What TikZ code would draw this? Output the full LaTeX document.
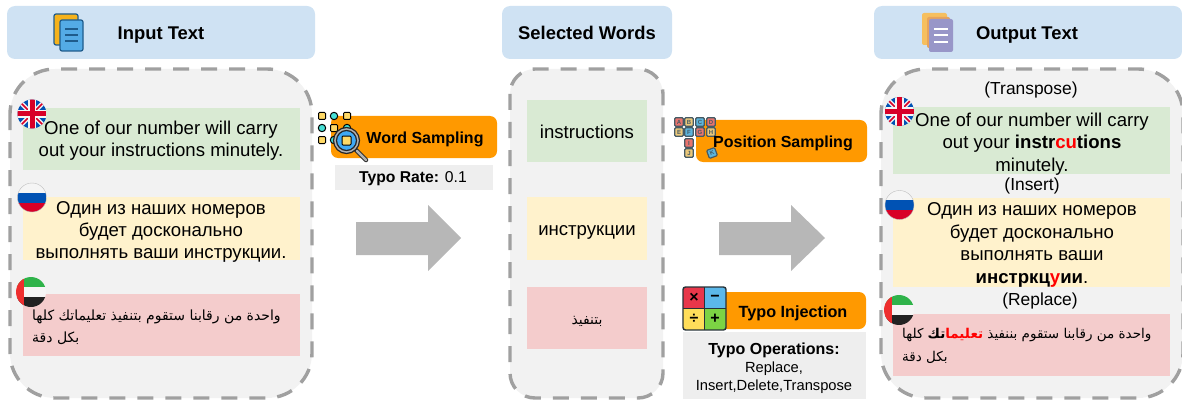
\documentclass[tikz,border=0pt]{standalone}
\usepackage{fontspec}
\setmainfont{Liberation Sans}
\newfontfamily\arabicfont[Script=Arabic]{DejaVu Sans}
\TeXXeTstate=1
\usetikzlibrary{calc}
\definecolor{headblue}{HTML}{CFE2F3}
\definecolor{panelgray}{HTML}{F2F2F2}
\definecolor{dashgray}{HTML}{A0A0A0}
\definecolor{boxgreen}{HTML}{D9EAD3}
\definecolor{boxyellow}{HTML}{FFF2CC}
\definecolor{boxred}{HTML}{F4CCCC}
\definecolor{stepor}{HTML}{FF9900}
\definecolor{notegray}{HTML}{EEEEEE}
\definecolor{arrowgray}{HTML}{B7B7B7}
\definecolor{inkdark}{HTML}{455A64}
\definecolor{iconyellow}{HTML}{FFD966}
\definecolor{iconteal}{HTML}{46DFD5}
\definecolor{iconblue}{HTML}{3FA9F5}
\definecolor{blkred}{HTML}{E8746E}
\definecolor{blkyel}{HTML}{EBC87A}
\definecolor{blkblue}{HTML}{5DB5DC}
\definecolor{opred}{HTML}{E8374A}
\definecolor{opblue}{HTML}{5BB8EA}
\definecolor{opyellow}{HTML}{FFDE5A}
\definecolor{opgreen}{HTML}{7CD344}
\definecolor{opline}{HTML}{263238}
\definecolor{flagblue}{HTML}{0052B4}
\definecolor{flagred}{HTML}{D80027}
\definecolor{flaggreen}{HTML}{2FB34A}
\definecolor{flagaered}{HTML}{EE2E2E}
\definecolor{flagblack}{HTML}{222222}
\definecolor{flagwhite}{HTML}{F5F5F5}
\definecolor{docline}{HTML}{1F5C8C}
\definecolor{docback}{HTML}{F5B21B}
\definecolor{docfront}{HTML}{54ABE6}
\definecolor{outback}{HTML}{F6BF5E}
\definecolor{outmid}{HTML}{E8A35A}
\definecolor{outfront}{HTML}{9896C8}
\newcommand\fsz[2]{\fontsize{#1}{#2}\selectfont}
\tikzset{
  x=1pt,y=-1pt,
  head/.style={fill=headblue,rounded corners=8pt,draw=none},
  panel/.style={fill=panelgray,draw=dashgray,line width=3.4pt,dash pattern=on 16pt off 12pt},
  orangebar/.style={fill=stepor,rounded corners=7pt,draw=none},
  notebox/.style={fill=notegray,draw=none},
  bigblack/.style={text=black,align=center,inner sep=0pt},
  bigarrow/.style={fill=arrowgray,draw=none},
  blk/.style={draw=inkdark,line width=1.2pt,rounded corners=1pt,minimum size=8.5pt,inner sep=0pt,font=\fsz{6}{6}\bfseries,text=inkdark},
  sqy/.style={draw=black,line width=1pt,fill=iconyellow,rounded corners=1pt},
  cic/.style={draw=black,line width=1pt,fill=iconteal}
}
\newcommand\FlagUK[2]{\begin{scope}[shift={(#1,#2)}]
 \begin{scope}
 \clip (0,0) circle (14.5);
 \fill[flagblue] (-15,-15) rectangle (15,15);
 \draw[flagwhite,line width=4.5pt] (-15,-15)--(15,15) (-15,15)--(15,-15);
 \draw[flagred,line width=1.5pt] (-15,-15)--(15,15) (-15,15)--(15,-15);
 \draw[flagwhite,line width=8.5pt] (-15,0)--(15,0) (0,-15)--(0,15);
 \draw[flagred,line width=5pt] (-15,0)--(15,0) (0,-15)--(0,15);
 \end{scope}
\end{scope}}
\newcommand\FlagRU[2]{\begin{scope}[shift={(#1,#2)}]
 \begin{scope}
 \clip (0,0) circle (14.5);
 \fill[flagwhite] (-15,-15) rectangle (15,-5);
 \fill[flagblue] (-15,-5) rectangle (15,5);
 \fill[flagred] (-15,5) rectangle (15,15);
 \end{scope}
 \draw[black!25,line width=.4pt] (0,0) circle (14.5);
\end{scope}}
\newcommand\FlagAE[2]{\begin{scope}[shift={(#1,#2)}]
 \begin{scope}
 \clip (0,0) circle (15);
 \fill[flaggreen] (-15,-15) rectangle (15,-5);
 \fill[flagwhite] (-15,-5) rectangle (15,5);
 \fill[flagblack] (-15,5) rectangle (15,15);
 \fill[flagaered] (-15,-15) rectangle (-7,15);
 \end{scope}
\end{scope}}
\begin{document}
\begin{tikzpicture}
\useasboundingbox (0,0) rectangle (1182,401);
% headers
\draw[head] (7,6) rectangle (315,59);
\draw[head] (502,6) rectangle (672,59);
\draw[head] (874,6) rectangle (1182,59);
\node[bigblack,font=\fsz{18.4}{22}\bfseries] (hin) at (161,35) {Input Text};
\node[bigblack,font=\fsz{18.4}{22}\bfseries] (hsel) at (587,33) {Selected Words};
\node[bigblack,font=\fsz{18.4}{22}\bfseries] (hout) at (1027,35) {Output Text};
% panels
\draw[panel,rounded corners=45pt] (10,69) rectangle (312,398);
\draw[panel,rounded corners=25pt] (510,69) rectangle (663,398);
\draw[panel,rounded corners=45pt] (881,69) rectangle (1183,398);
% coloured boxes
\fill[boxgreen] (23,108) rectangle (300,170);
\fill[boxyellow] (23,197) rectangle (300,260);
\fill[boxred] (23,294) rectangle (300,356);
\fill[boxgreen] (527,100) rectangle (647,162);
\fill[boxyellow] (527,197) rectangle (647,260);
\fill[boxred] (527,287) rectangle (647,349);
\fill[boxgreen] (893,107) rectangle (1170,174);
\fill[boxyellow] (893,198) rectangle (1170,287);
\fill[boxred] (893,314) rectangle (1170,376);
% input texts
\node[bigblack,font=\fsz{18.6}{22}] (t1) at (161,140.5) {One of our number will carry\\out your instructions minutely.};
\node[bigblack,font=\fsz{18.6}{22}] (t2) at (161,231.5) {Один из наших номеров\\будет досконально\\выполнять ваши инструкции.};
\node[bigblack,font=\arabicfont\fsz{14}{22},align=left,anchor=west] (t3) at (32,327) {\beginR واحدة من رقابنا ستقوم بتنفيذ تعليماتك كلها\endR\\\beginR بكل دقة\endR};
% selected words
\node[bigblack,font=\fsz{18.6}{22}] (w1) at (587,132) {instructions};
\node[bigblack,font=\fsz{18.6}{22}] (w2) at (587,232) {инструкции};
\node[bigblack,font=\arabicfont\fsz{14}{22}] (w3) at (587,321) {\beginR بتنفيذ\endR};
% output texts
\node[bigblack,font=\fsz{17.4}{20}] (l1) at (1031,90) {(Transpose)};
\node[bigblack,font=\fsz{17.4}{20}] (l2) at (1032,186) {(Insert)};
\node[bigblack,font=\fsz{17.4}{20}] (l3) at (1040,301) {(Replace)};
\node[bigblack,font=\fsz{18.6}{22.5}] (o1) at (1032,144) {One of our number will carry\\out your \textbf{instr\textcolor{red}{cu}tions}\\minutely.};
\node[bigblack,font=\fsz{18.6}{22.5}] (o2) at (1032,245) {Один из наших номеров\\будет досконально\\выполнять ваши\\\textbf{инстркц\textcolor{red}{у}ии}.};
\node[bigblack,font=\arabicfont\fsz{13.5}{23},align=left,anchor=west] (o3) at (902,346) {\beginR واحدة من رقابنا ستقوم بننفيذ \beginL\textbf{\textcolor{red}{\beginR تعليما\endR}}\endL\textbf{تك} كلها\endR\\\beginR بكل دقة\endR};
% arrows
\fill[bigarrow] (356,222)--(428,222)--(428,205)--(461,238)--(428,271)--(428,255)--(356,255)--cycle;
\fill[bigarrow] (719,222)--(791,222)--(791,205)--(825,238)--(791,271)--(791,255)--(719,255)--cycle;
% word sampling
\draw[orangebar] (331,116) rectangle (497,158);
\draw[notebox] (335,165) rectangle (493,190);
\node[bigblack,font=\fsz{16}{18}\bfseries] (ws) at (425,139) {Word Sampling};
\node[bigblack,font=\fsz{15.7}{18}] (tr) at (413,178.5) {\textbf{Typo Rate:} 0.1};
\foreach \px/\py in {322/116,347/116,334/128,322/140,347/140} {\draw[sqy] (\px-3.5,\py-3.5) rectangle (\px+3.5,\py+3.5);}
\foreach \px/\py in {334/116,322/128,347/128,334/140} {\draw[cic] (\px,\py) circle (3.7);}
\draw[line cap=round,line width=4.5pt,black!80] (356,150)--(366,160);
\draw[line cap=round,line width=2.2pt,black!30] (357,151)--(366,160);
\draw[fill=black!30,draw=black!85,line width=1.2pt] (346.5,140.5) circle (13);
\draw[fill=iconblue,draw=black!85,line width=1.2pt] (346.5,140.5) circle (10);
\draw[sqy] (342,136) rectangle (351,145);
% position sampling
\draw[orangebar] (696,120) rectangle (867,162);
\foreach \ltr/\px/\py/\col in {A/679/122/blkred,B/689/122/blkyel,C/700/122/blkblue,D/711/122/blkred,E/679/132/blkyel,F/689/132/blkblue,G/700/132/blkred,H/711/132/blkyel,I/689/143/blkred,J/689/153/blkyel}
 {\node[blk,fill=\col] (b\ltr) at (\px,\py) {\ltr};}
\node[blk,fill=blkblue,rotate=20] (bK) at (712,153) {K};
\node[bigblack,font=\fsz{16}{18}\bfseries] (ps) at (783,143.5) {Position Sampling};
% typo injection
\draw[orangebar] (700,292) rectangle (866,329);
\draw[notebox] (683,332) rectangle (866,399);
\begin{scope}
 \clip[rounded corners=2.5pt] (683,287) rectangle (726,330);
 \fill[opred] (683,287) rectangle (704.5,308.5);
 \fill[opblue] (704.5,287) rectangle (726,308.5);
 \fill[opyellow] (683,308.5) rectangle (704.5,330);
 \fill[opgreen] (704.5,308.5) rectangle (726,330);
\end{scope}
\draw[opline,line width=1.4pt,rounded corners=2.5pt] (683,287) rectangle (726,330);
\draw[opline,line width=1.2pt] (704.5,287)--(704.5,330) (683,308.5)--(726,308.5);
\node[bigblack,font=\fsz{16}{16}\bfseries] (opm) at (694,298) {×};
\node[bigblack,font=\fsz{16}{16}\bfseries] (opd) at (715,298) {−};
\node[bigblack,font=\fsz{16}{16}\bfseries] (opv) at (694,319) {÷};
\node[bigblack,font=\fsz{16}{16}\bfseries] (opa) at (715,319) {+};
\node[bigblack,font=\fsz{16.2}{18}\bfseries] (ti) at (793,313.5) {Typo Injection};
\node[bigblack,font=\fsz{14.7}{18}] (to) at (774,368) {{\fsz{16}{18}\bfseries Typo Operations:}\\Replace,\\Insert,Delete,Transpose};
% doc icons
\draw[fill=docback,draw=docline,line width=1.2pt,rounded corners=2pt] (54,14) rectangle (78,45);
\draw[fill=docfront,draw=docline,line width=1.2pt,rounded corners=2pt] (60,20) rectangle (83,51);
\draw[docline,line width=2pt] (65,29)--(78,29) (65,35)--(78,35) (65,41)--(78,41);
\fill[outback,rounded corners=2pt] (922,13) rectangle (947,45);
\fill[outmid,rounded corners=2pt] (927,17) rectangle (950,48);
\fill[outfront,rounded corners=2pt] (929,19) rectangle (953,52);
\draw[white,line width=2pt] (934,29)--(948,29) (934,35.5)--(948,35.5) (934,42)--(948,42);
% flags
\FlagUK{32}{114}
\FlagRU{32}{197.5}
\FlagAE{31}{292}
\FlagUK{899.5}{111.5}
\FlagRU{899.5}{205}
\FlagAE{899}{310}
\end{tikzpicture}
\end{document}
